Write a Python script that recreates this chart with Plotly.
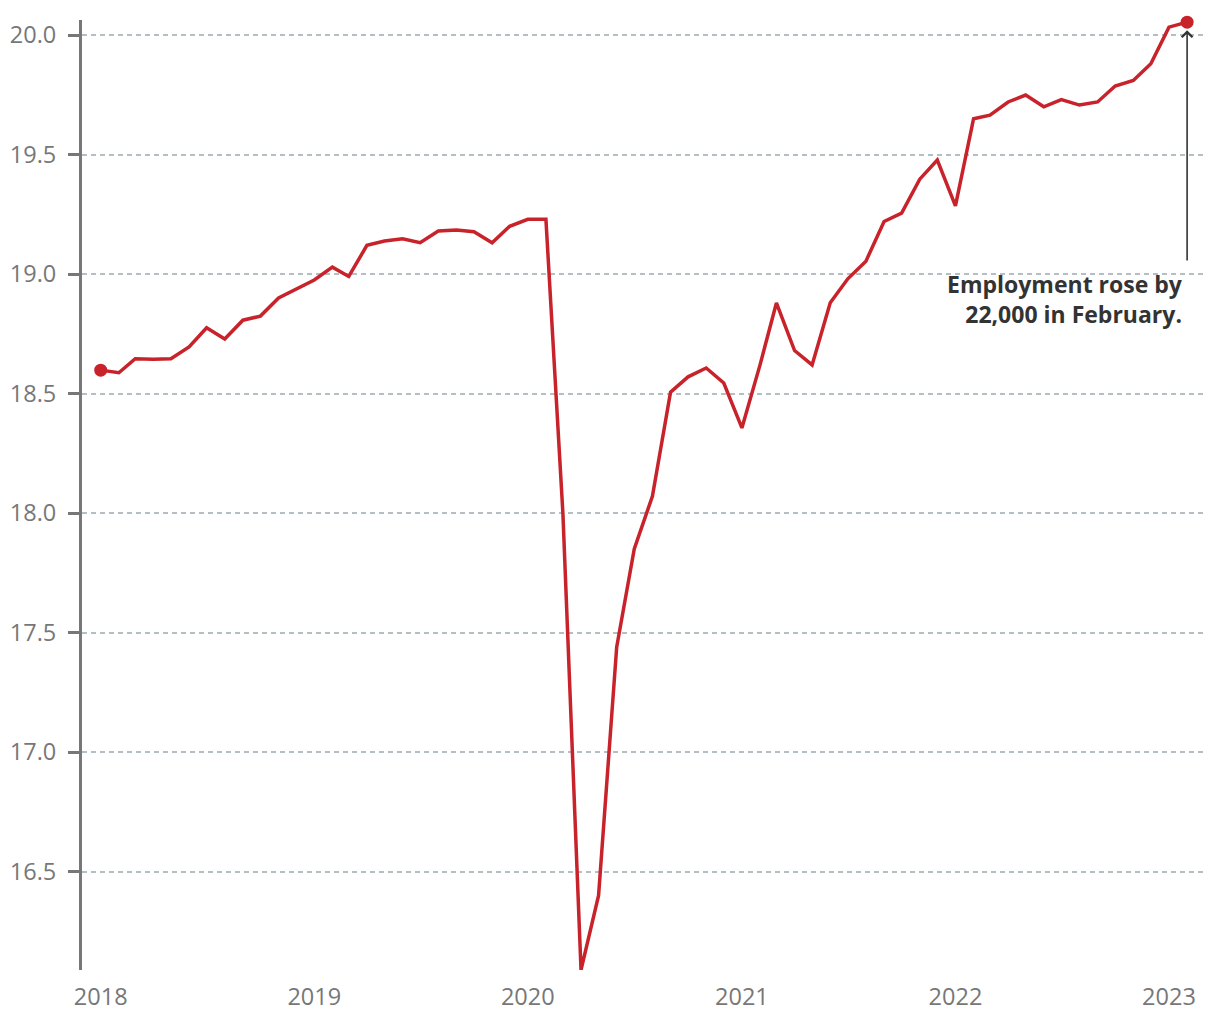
import pandas as pd
import plotly.graph_objects as go

# Monthly dates, Jan 2018 - Feb 2023
dates = pd.date_range("2018-01-01", "2023-02-01", freq="MS")

# Employment (millions)
employment = [
    18.598, 18.587, 18.646, 18.644, 18.646, 18.695, 18.775, 18.728, 18.807, 18.824, 18.900, 18.937,
    18.975, 19.029, 18.990, 19.120, 19.138, 19.148, 19.131, 19.180, 19.184, 19.177, 19.131, 19.200,
    19.229, 19.229, 18.000, 16.088, 16.400, 17.440, 17.850, 18.070, 18.506, 18.570, 18.607, 18.544,
    18.356, 18.620, 18.879, 18.680, 18.620, 18.880, 18.980, 19.054, 19.220, 19.255, 19.397, 19.477,
    19.285, 19.650, 19.665, 19.720, 19.749, 19.700, 19.730, 19.707, 19.720, 19.787, 19.810, 19.880,
    20.033, 20.054,
]

y_ticks = [16.5, 17.0, 17.5, 18.0, 18.5, 19.0, 19.5, 20.0]
x_ticks = ["2018-01-01", "2019-01-01", "2020-01-01", "2021-01-01", "2022-01-01", "2023-01-01"]
x_tick_labels = ["2018", "2019", "2020", "2021", "2022", "2023"]

annotation_text = "Employment rose by<br>22,000 in February."

RED = "#c8222b"
GRAY = "#777777"
FONT = "Open Sans"

fig = go.Figure()
fig.add_trace(go.Scatter(
    x=dates, y=employment, mode="lines",
    line=dict(color=RED, width=3.5), hoverinfo="skip", showlegend=False,
    cliponaxis=False,
))
fig.add_trace(go.Scatter(
    x=[dates[0], dates[-1]], y=[employment[0], employment[-1]], mode="markers",
    marker=dict(color=RED, size=13), hoverinfo="skip", showlegend=False,
    cliponaxis=False,
))

# Arrow from label up to last point
fig.add_annotation(
    x=dates[-1], y=employment[-1], xref="x", yref="y",
    ax=dates[-1], ay=19.05, axref="x", ayref="y",
    text="", showarrow=True, arrowhead=4, arrowsize=1.3, arrowwidth=1.6,
    arrowcolor="#333333", standoff=8,
)
fig.add_annotation(
    x=dates[-1], y=19.035, xref="x", yref="y",
    text=annotation_text, showarrow=False, xanchor="right", yanchor="top",
    align="right", xshift=-2,
    font=dict(family=FONT, size=23, color="#333333", weight="bold"),
)

# The page adds an 8px body margin, so the figure is sized/offset to compensate
fig.update_layout(
    width=1212, height=1012,
    margin=dict(l=74, r=13, t=12, b=50),
    paper_bgcolor="white", plot_bgcolor="white",
    font=dict(family=FONT, color=GRAY, size=24),
)
fig.update_xaxes(
    range=["2017-11-30", "2023-03-07"],
    tickvals=x_ticks, ticktext=x_tick_labels,
    showgrid=False, zeroline=False, showline=False, ticks="",
    tickfont=dict(family=FONT, size=23.5, color=GRAY),
    ticklabelstandoff=10, automargin=False,
)
fig.update_yaxes(
    range=[16.088, 20.063],
    tickvals=y_ticks, ticktext=[f"{v:.1f}" for v in y_ticks],
    showgrid=True, gridcolor="#b4bec3", gridwidth=1.5, griddash="5px,4px",
    zeroline=False, showline=True, linecolor=GRAY, linewidth=3,
    ticks="outside", ticklen=11, tickwidth=3, tickcolor=GRAY,
    tickfont=dict(family=FONT, size=23.5, color=GRAY),
    ticklabelstandoff=7, automargin=False,
)

fig.write_html("out.html")
